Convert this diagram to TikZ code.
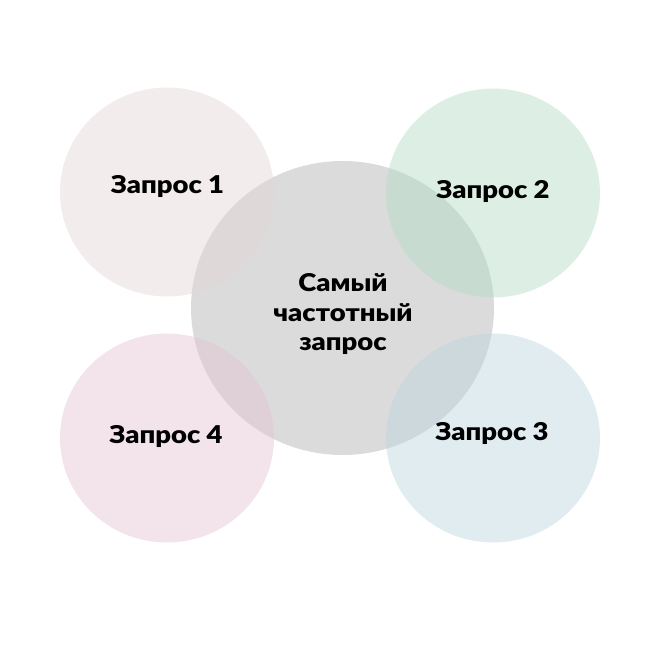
\documentclass[tikz,border=0pt]{standalone}
\usepackage{fontspec}
\setmainfont{Lato}[BoldFont={Lato Black},BoldFeatures={FakeStretch=1.12}]
\usepackage{tikz}
\usetikzlibrary{shapes.geometric}
\definecolor{m}{HTML}{DBDBDB}
\definecolor{q1c}{HTML}{E4D5D5}
\definecolor{q2c}{HTML}{B3DCC5}
\definecolor{q3c}{HTML}{BCD5DE}
\definecolor{q4c}{HTML}{E4C3D3}
\begin{document}
\begin{tikzpicture}[x=1pt,y=-1pt,font=\bfseries\fontsize{24.5}{29.5}\selectfont,
  bubble/.style={ellipse,minimum width=214pt,minimum height=209pt,inner sep=0pt,
    fill opacity=0.45,text opacity=1},
  core/.style={ellipse,minimum width=303pt,minimum height=294pt,inner sep=0pt,fill=m}]
  \useasboundingbox (0,0) rectangle (666,659);
  \node[core] (main) at (342.5,308) {};
  \node[bubble,fill=q1c] (q1) at (167,192) {};
  \node[bubble,fill=q2c] (q2) at (493,193) {};
  \node[bubble,fill=q3c] (q3) at (493,438) {};
  \node[bubble,fill=q4c] (q4) at (167,438) {};
  % labels on top
  \node (t1) at (167.5,186) {Запрос 1};
  \node (t2) at (493,191) {Запрос 2};
  \node (t3) at (492,433) {Запрос 3};
  \node (t4) at (166,436) {Запрос 4};
  \node[align=center] (tm) at (343,314) {Самый\\частотный\\запрос};
\end{tikzpicture}
\end{document}
